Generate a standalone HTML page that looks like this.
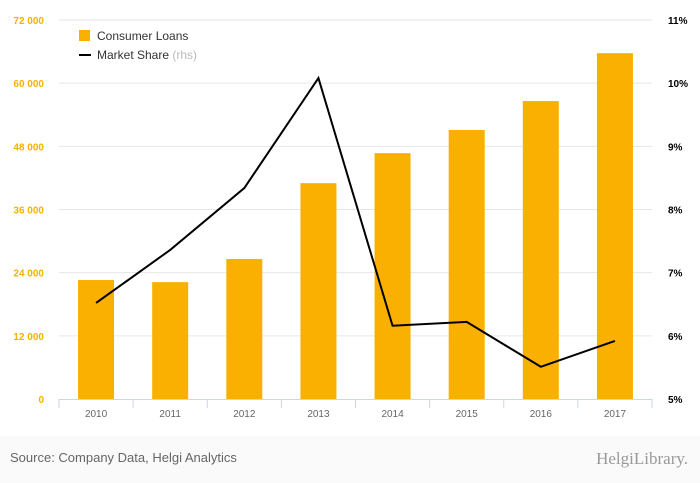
<!DOCTYPE html>
<html><head><meta charset="utf-8"><style>
body{margin:0;width:700px;height:483px;background:#fff;font-family:"Liberation Sans",sans-serif;overflow:hidden}
#footer{position:absolute;left:0;top:436px;width:700px;height:47px;background:#fafafa}
</style></head><body>
<div id="footer"></div>
<svg id="chart" width="700" height="483" style="position:absolute;left:0;top:0">
<g id="grid"></g><g id="bars"></g><g id="line"></g><g id="axes"></g>
<g>
<rect x="79" y="30" width="11" height="11" fill="#f9b000"/>
<text x="97" y="40" font-size="12" fill="#333">Consumer Loans</text>
<line x1="79" y1="55" x2="91" y2="55" stroke="#000" stroke-width="2"/>
<text x="97" y="59" font-size="12" fill="#333">Market Share <tspan fill="#bbb">(rhs)</tspan></text>
</g>
<text x="10" y="462" font-size="13" fill="#666">Source: Company Data, Helgi Analytics</text>
<text x="688" y="464" font-size="17" fill="#999" text-anchor="end" font-family="Liberation Serif,serif">HelgiLibrary.</text>
</svg>
<script>
const years=["2010","2011","2012","2013","2014","2015","2016","2017"];
const loans=[22600,22200,26600,41000,46700,51100,56600,65700];
const share=[6.52,7.36,8.34,10.08,6.16,6.22,5.51,5.92];
const leftTicks=[0,12000,24000,36000,48000,60000,72000];
const rightTicks=[5,6,7,8,9,10,11];
const NS="http://www.w3.org/2000/svg";
const x0=59,x1=652,yTop=20,yBot=399;
const band=(x1-x0)/years.length;
const xC=i=>x0+band*(i+0.5);
const yL=v=>yBot-(v/72000)*(yBot-yTop);
const yR=v=>yBot-((v-5)/6)*(yBot-yTop);
function mk(t,a,p){const e=document.createElementNS(NS,t);for(const k in a)e.setAttribute(k,a[k]);p.appendChild(e);return e;}
const grid=document.getElementById('grid'),axes=document.getElementById('axes');
leftTicks.forEach((v,i)=>{
 if(v>0){const l=mk('line',{x1:x0,x2:x1,y1:yL(v),y2:yL(v),stroke:'#e6e6e6'},grid);
 
 }
 const t=mk('text',{x:44,y:yL(v)+4,'font-size':10,fill:'#f9b000','text-anchor':'end','font-weight':'bold'},axes);
 t.textContent=v===0?'0':String(v).replace(/(\d)(?=(\d{3})+$)/g,'$1 ');
 
 
});
rightTicks.forEach(v=>{
 const t=mk('text',{x:668,y:yR(v)+4,'font-size':10,fill:'#000','font-weight':'bold'},axes);
 t.textContent=v+'%';
 
 
});
const bars=document.getElementById('bars');
loans.forEach((v,i)=>{
 const r=mk('rect',{x:xC(i)-18,y:yL(v),width:36,height:yBot-yL(v),fill:'#f9b000'},bars);
 
 
});
const ax=mk('line',{x1:x0,x2:x1,y1:yBot+0.5,y2:yBot+0.5,stroke:'#ccd6eb'},axes);


for(let i=0;i<=years.length;i++){
 const tk=mk('line',{x1:x0+band*i,x2:x0+band*i,y1:yBot,y2:yBot+9,stroke:'#ccd6eb'},axes);
 
 
}
years.forEach((y,i)=>{
 const t=mk('text',{x:xC(i),y:yBot+18,'font-size':10,fill:'#666','text-anchor':'middle'},axes);
 t.textContent=y;
 
 
});
const pl=mk('polyline',{points:share.map((v,i)=>xC(i)+','+yR(v)).join(' '),fill:'none',stroke:'#000','stroke-width':2},document.getElementById('line'));


</script>
</body></html>
